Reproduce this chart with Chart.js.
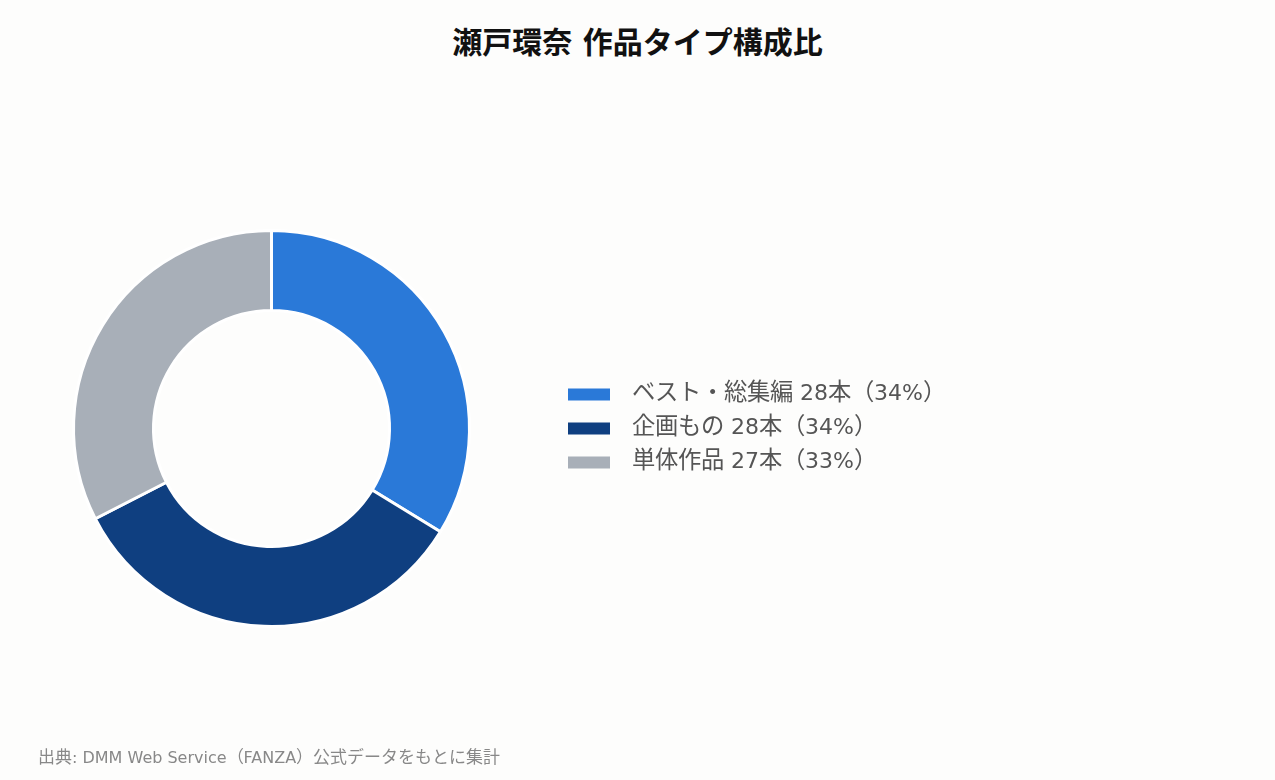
<!DOCTYPE html>
<html lang="ja">
<head>
<meta charset="utf-8">
<title>瀬戸環奈 作品タイプ構成比</title>
<script src="https://cdn.jsdelivr.net/npm/chart.js@4.4.1/dist/chart.umd.min.js"></script>
<style>
  @font-face {
    font-family: "CJKAncho";
    src: local("Noto Sans CJK JP Regular"), local("NotoSansCJKjp-Regular"), local("Noto Sans CJK JP");
    size-adjust: 106%;
  }
  html, body {
    margin: 0;
    padding: 0;
    width: 1275px;
    height: 780px;
    overflow: hidden;
    background: #fdfdfc;
    font-family: "DejaVu Sans", "CJKAncho", "Noto Sans CJK JP", sans-serif;
  }
  #titulo {
    position: absolute;
    left: 0;
    top: 24px;
    width: 1275px;
    text-align: center;
    font-family: "DejaVu Sans", "Noto Sans CJK JP", sans-serif;
    font-size: 30px;
    font-weight: bold;
    line-height: 38px;
    color: #111;
  }
  #contenedor {
    position: absolute;
    left: -13px;
    top: 0;
    width: 1288px;
    height: 780px;
  }
  #fuente {
    position: absolute;
    left: 38px;
    top: 747px;
    font-size: 16px;
    line-height: 22px;
    color: #888;
  }
</style>
</head>
<body>
<div id="titulo">瀬戸環奈 作品タイプ構成比</div>
<div id="contenedor"><canvas id="myChart"></canvas></div>
<div id="fuente">出典: DMM Web Service（FANZA）公式データをもとに集計</div>

<script>
const categorias = ["ベスト・総集編", "企画もの", "単体作品"];
const cantidades = [28, 28, 27];
const colores = ["#2a79d8", "#0f3f80", "#a8afb8"];

const total = cantidades.reduce((a, b) => a + b, 0);

// the en space pushes the text a bit away from the colour box
const etiquetas = categorias.map((cat, i) => {
  const pct = Math.round((cantidades[i] / total) * 100);
  return `\u2002${cat} ${cantidades[i]}本（${pct}%）`;
});

const fuente = "'DejaVu Sans', CJKAncho, 'Noto Sans CJK JP', sans-serif";
const anchoCanvas = 1288;
const bordeDerechoArea = 569;

async function crearGrafico() {
  try {
    await document.fonts.load("22px CJKAncho", "単体作品");
  } catch (e) {
    // si falla seguimos con la fuente normal
  }

  const ctx = document.querySelector("#myChart");

  const grafico = new Chart(ctx, {
    type: "doughnut",
    data: {
      labels: etiquetas,
      datasets: [
        {
          data: cantidades,
          backgroundColor: colores,
          borderColor: "#ffffff",
          borderWidth: 3
        }
      ]
    },
    options: {
      responsive: true,
      maintainAspectRatio: false,
      animation: false,
      events: [],
      radius: 198,
      cutout: "59.6%",
      layout: {
        padding: { left: 0, right: 300, top: 77, bottom: 0 }
      },
      plugins: {
        legend: {
          position: "right",
          align: "center",
          labels: {
            boxWidth: 42,
            boxHeight: 12,
            padding: 12,
            color: "#555555",
            font: { family: fuente, size: 22 },
            generateLabels: (chart) => {
              const items = Chart.overrides.doughnut.plugins.legend.labels.generateLabels(chart);
              items.forEach((item) => {
                item.lineWidth = 0;
                item.strokeStyle = "rgba(0,0,0,0)";
              });
              return items;
            }
          }
        },
        tooltip: { enabled: false }
      }
    }
  });

  // segunda pasada: dejar el area del grafico con el borde derecho fijo
  const anchoLeyenda = grafico.legend.width;
  grafico.options.layout.padding.right = anchoCanvas - bordeDerechoArea - anchoLeyenda;
  grafico.update("none");
}

crearGrafico();
</script>
</body>
</html>
